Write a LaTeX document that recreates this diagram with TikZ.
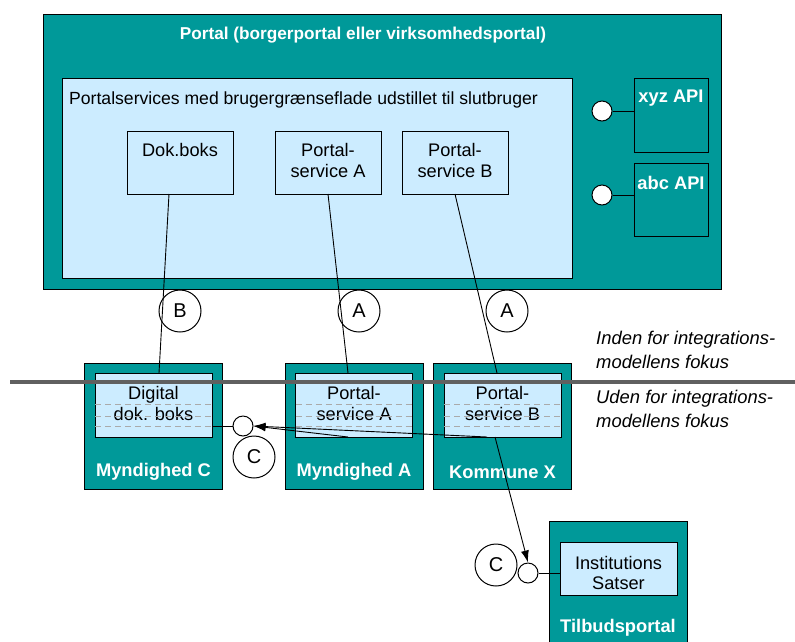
\documentclass[tikz,border=0pt]{standalone}
\usepackage{fontspec}
\setmainfont{Liberation Sans}
\usepackage{tikz}
\usetikzlibrary{positioning,calc,arrows.meta}

\definecolor{portalteal}{RGB}{0,153,153}
\definecolor{svcblue}{RGB}{204,236,255}
\definecolor{fokusgray}{RGB}{96,96,96}
\definecolor{dashgray}{RGB}{170,170,170}

\newcommand{\dfont}{\fontsize{18.2}{21.5}\selectfont}

\tikzset{
  tealbox/.style={draw=black,fill=portalteal,line width=1pt,inner sep=0pt,outer sep=0pt},
  svcbox/.style={draw=black,fill=svcblue,line width=1pt,inner sep=0pt,outer sep=0pt},
  txt/.style={inner sep=0pt,align=center},
  whitetxt/.style={txt,text=white,font=\fontsize{18.3}{21}\selectfont\bfseries},
  fokustxt/.style={inner sep=0pt,align=left,anchor=west,font=\fontsize{18.4}{24}\selectfont\itshape},
  ifc/.style={circle,draw=black,fill=white,line width=1pt,minimum size=20pt,inner sep=0pt},
  tag/.style={circle,draw=black,line width=1pt,minimum size=42pt,inner sep=0pt,font=\fontsize{20}{22}\selectfont},
  conn/.style={draw=black,line width=0.9pt},
  callarrow/.style={conn,-{Latex[length=12pt,width=8pt]}},
  dashrule/.style={dashgray,line width=0.8pt,dash pattern=on 6pt off 4pt}
}

\begin{document}
\begin{tikzpicture}[x=1pt,y=-1pt,font=\dfont]
\useasboundingbox (0,0) rectangle (795,641);

% portal
\node[tealbox,minimum width=678pt,minimum height=275pt] (portal) at (382,151.5) {};
\node[whitetxt,font=\fontsize{17.2}{21}\selectfont\bfseries] (portaltitle) at (363,35) {Portal (borgerportal eller virksomhedsportal)};
\node[svcbox,minimum width=510pt,minimum height=200pt] (svc) at (317,178) {};
\node[txt,anchor=west,font=\fontsize{17.6}{21}\selectfont] (svctitle) at (69,100) {Portalservices med brugergrænseflade udstillet til slutbruger};

\foreach \n/\x in {dok/180,psa/328,psb/455}
  \node[svcbox,minimum width=106pt,minimum height=63pt] (\n) at (\x,162.5) {};
\node[txt,below=12pt of dok.north] {Dok.boks};
\node[txt,below=12pt of psa.north] {Portal-\\service A};
\node[txt,below=12pt of psb.north] {Portal-\\service B};

% API
\node[tealbox,minimum width=74pt,minimum height=74pt] (xyz) at (671,115) {};
\node[tealbox,minimum width=74pt,minimum height=73pt] (abc) at (671,199.5) {};
\node[whitetxt] at ([yshift=-20pt]xyz.north) {xyz API};
\node[whitetxt] at ([yshift=-20pt]abc.north) {abc API};
\node[ifc] (xyzifc) at (602,111) {};
\node[ifc] (abcifc) at (602,195) {};
\draw[conn] (xyzifc.east) -- (xyzifc.east -| xyz.west);
\draw[conn] (abcifc.east) -- (abcifc.east -| abc.west);

\node[tag] (tagB) at (180,311) {B};
\node[tag] (tagAa) at (359,311) {A};
\node[tag] (tagAb) at (507,311) {A};

% myndigheder
\foreach \n/\m/\x in {myC/digital/153.5,myA/lowA/354,komX/lowB/502.5}{
  \node[tealbox,minimum width=138pt,minimum height=126pt] (\n) at (\x,426) {};
  \node[svcbox,minimum width=117pt,minimum height=64pt] (\m) at (\x,405) {};
}
\node[txt,below=13pt of digital.north] {Digital\\dok. boks};
\node[txt,below=13pt of lowA.north] {Portal-\\service A};
\node[txt,below=13pt of lowB.north] {Portal-\\service B};
\foreach \m in {digital,lowA,lowB}
  \foreach \dy in {1pt,-11pt,-21pt}
    \draw[dashrule] ([yshift=\dy]\m.west) -- ([yshift=\dy]\m.east);
\node[whitetxt] at ([yshift=17pt]myC.south) {Myndighed C};
\node[whitetxt] at ([yshift=17pt]myA.south) {Myndighed A};
\node[whitetxt] at ([yshift=17pt]komX.south) {Kommune X};

% tilbudsportal
\node[tealbox,minimum width=138pt,minimum height=129pt] (tilbud) at (618,585.5) {};
\node[svcbox,minimum width=117pt,minimum height=53pt] (inst) at (618.5,568.5) {};
\node[txt,font=\fontsize{18.2}{20}\selectfont] at ([yshift=-4.5pt]inst.center) {Institutions\\Satser};
\node[whitetxt] at ([yshift=-107pt]tilbud.north) {Tilbudsportal};

% fokus
\coordinate (barL) at (10,382);
\coordinate (barR) at (795,382);
\draw[fokusgray,line width=4pt] (barL) -- (barR);
\node[fokustxt] (inden) at (596,349.5) {Inden for integrations-\\modellens fokus};
\node[fokustxt] (uden) at (596,408.5) {Uden for integrations-\\modellens fokus};

% forbindelser
\draw[conn] ([xshift=-11pt]dok.south) -- ([xshift=5.5pt]digital.north);
\draw[conn] (psa.south) -- ([xshift=-6pt]lowA.north);
\draw[conn] (psb.south) -- ([xshift=-5.5pt]lowB.north);

\node[ifc] (cifc) at (243,426) {};
\node[tag] (tagCa) at (254,457) {C};
\draw[conn] (cifc.west -| digital.east) -- (cifc.west);
\draw[callarrow] ([xshift=-6pt]lowA.south) -- (cifc.east);
\draw[callarrow] ([xshift=-15.5pt]lowB.south) -- (cifc.east);

\node[ifc] (tifc) at (528,573) {};
\node[tag] (tagCb) at (496,565) {C};
\draw[conn] (tifc.east) -- (tifc.east -| inst.west);
\draw[callarrow] ([xshift=-7.5pt]lowB.south) -- (tifc.north);
%\draw[conn] (tagCb) -- (tifc);
\end{tikzpicture}
\end{document}
